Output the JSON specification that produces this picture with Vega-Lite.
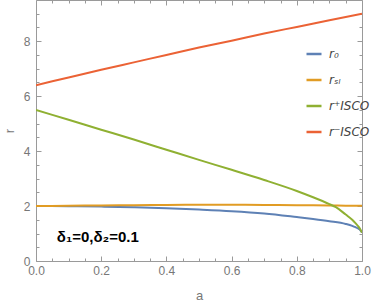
{
  "$schema": "https://vega.github.io/schema/vega-lite/v6.json",
  "width": 326,
  "height": 261,
  "autosize": {"type": "none"},
  "padding": {"left": 36, "top": 0, "right": 12, "bottom": 46},
  "background": "white",
  "config": {
    "font": "Liberation Sans",
    "view": {"stroke": null},
    "axis": {"domainColor": "#9a9a9a", "tickColor": "#9a9a9a", "labelColor": "#777777", "titleColor": "#777777", "labelFontSize": 12, "titleFontSize": 13, "titleFontWeight": "normal", "grid": false, "labelFont": "Liberation Sans", "titleFont": "Liberation Sans"}
  },
  "datasets": {
    "curves": [
      {"a": 0.0, "r": 2.0, "s": "r₀"},
      {"a": 0.1, "r": 1.995, "s": "r₀"},
      {"a": 0.2, "r": 1.98, "s": "r₀"},
      {"a": 0.3, "r": 1.955, "s": "r₀"},
      {"a": 0.4, "r": 1.92, "s": "r₀"},
      {"a": 0.5, "r": 1.873, "s": "r₀"},
      {"a": 0.6, "r": 1.815, "s": "r₀"},
      {"a": 0.7, "r": 1.73, "s": "r₀"},
      {"a": 0.8, "r": 1.6, "s": "r₀"},
      {"a": 0.85, "r": 1.53, "s": "r₀"},
      {"a": 0.9, "r": 1.45, "s": "r₀"},
      {"a": 0.95, "r": 1.35, "s": "r₀"},
      {"a": 0.97, "r": 1.28, "s": "r₀"},
      {"a": 0.98, "r": 1.23, "s": "r₀"},
      {"a": 0.99, "r": 1.17, "s": "r₀"},
      {"a": 0.995, "r": 1.12, "s": "r₀"},
      {"a": 1.0, "r": 1.04, "s": "r₀"},
      {"a": 0.0, "r": 2.0, "s": "rₛₗ"},
      {"a": 0.1, "r": 2.01, "s": "rₛₗ"},
      {"a": 0.2, "r": 2.022, "s": "rₛₗ"},
      {"a": 0.3, "r": 2.032, "s": "rₛₗ"},
      {"a": 0.4, "r": 2.04, "s": "rₛₗ"},
      {"a": 0.5, "r": 2.045, "s": "rₛₗ"},
      {"a": 0.6, "r": 2.045, "s": "rₛₗ"},
      {"a": 0.7, "r": 2.04, "s": "rₛₗ"},
      {"a": 0.8, "r": 2.03, "s": "rₛₗ"},
      {"a": 0.9, "r": 2.02, "s": "rₛₗ"},
      {"a": 0.95, "r": 2.015, "s": "rₛₗ"},
      {"a": 1.0, "r": 2.01, "s": "rₛₗ"},
      {"a": 0.0, "r": 5.5, "s": "r⁺ISCO"},
      {"a": 0.1, "r": 5.14, "s": "r⁺ISCO"},
      {"a": 0.2, "r": 4.78, "s": "r⁺ISCO"},
      {"a": 0.3, "r": 4.42, "s": "r⁺ISCO"},
      {"a": 0.4, "r": 4.05, "s": "r⁺ISCO"},
      {"a": 0.5, "r": 3.68, "s": "r⁺ISCO"},
      {"a": 0.6, "r": 3.32, "s": "r⁺ISCO"},
      {"a": 0.7, "r": 2.95, "s": "r⁺ISCO"},
      {"a": 0.8, "r": 2.55, "s": "r⁺ISCO"},
      {"a": 0.85, "r": 2.32, "s": "r⁺ISCO"},
      {"a": 0.9, "r": 2.07, "s": "r⁺ISCO"},
      {"a": 0.92, "r": 1.96, "s": "r⁺ISCO"},
      {"a": 0.95, "r": 1.69, "s": "r⁺ISCO"},
      {"a": 0.97, "r": 1.5, "s": "r⁺ISCO"},
      {"a": 0.98, "r": 1.38, "s": "r⁺ISCO"},
      {"a": 0.99, "r": 1.24, "s": "r⁺ISCO"},
      {"a": 0.995, "r": 1.15, "s": "r⁺ISCO"},
      {"a": 1.0, "r": 1.03, "s": "r⁺ISCO"},
      {"a": 0.0, "r": 6.4, "s": "r⁻ISCO"},
      {"a": 0.1, "r": 6.68, "s": "r⁻ISCO"},
      {"a": 0.2, "r": 6.96, "s": "r⁻ISCO"},
      {"a": 0.3, "r": 7.23, "s": "r⁻ISCO"},
      {"a": 0.4, "r": 7.5, "s": "r⁻ISCO"},
      {"a": 0.5, "r": 7.77, "s": "r⁻ISCO"},
      {"a": 0.6, "r": 8.02, "s": "r⁻ISCO"},
      {"a": 0.7, "r": 8.28, "s": "r⁻ISCO"},
      {"a": 0.8, "r": 8.52, "s": "r⁻ISCO"},
      {"a": 0.9, "r": 8.76, "s": "r⁻ISCO"},
      {"a": 1.0, "r": 9.0, "s": "r⁻ISCO"}
    ],
    "note": [{"a": 0.064, "r": 0.87, "t": "δ₁=0,δ₂=0.1"}]
  },
  "resolve": {"axis": {"x": "independent", "y": "independent"}},
  "layer": [
    {
      "data": {"name": "curves"},
      "mark": {"type": "line", "strokeWidth": 2, "interpolate": "monotone", "clip": true},
      "encoding": {
        "x": {"field": "a", "type": "quantitative", "scale": {"domain": [0, 1], "nice": false},
          "axis": {"title": "a", "orient": "bottom", "values": [0,0.05,0.1,0.15,0.2,0.25,0.3,0.35,0.4,0.45,0.5,0.55,0.6,0.65,0.7,0.75,0.8,0.85,0.9,0.95,1.0],
            "labelExpr": "abs(datum.value*5 - round(datum.value*5)) < 0.001 ? format(datum.value, '.1f') : ''",
            "tickSize": {"condition": {"test": "abs(datum.value*5 - round(datum.value*5)) < 0.001", "value": -5}, "value": -3},
            "labelPadding": 9, "titlePadding": 13, "labelFlush": false}},
        "y": {"field": "r", "type": "quantitative", "scale": {"domain": [0, 9.5], "nice": false},
          "axis": {"title": "r", "orient": "left", "values": [0,0.5,1,1.5,2,2.5,3,3.5,4,4.5,5,5.5,6,6.5,7,7.5,8,8.5,9],
            "labelExpr": "datum.value % 2 == 0 ? format(datum.value, 'd') : ''",
            "tickSize": {"condition": {"test": "datum.value % 2 == 0", "value": -5}, "value": -3},
            "labelPadding": 11, "titlePadding": 7}},
        "color": {"field": "s", "type": "nominal",
          "scale": {"domain": ["r₀", "rₛₗ", "r⁺ISCO", "r⁻ISCO"], "range": ["#5E81B5", "#E19C24", "#8FB032", "#EB6235"]},
          "legend": {"title": null, "orient": "none", "legendX": 269, "legendY": 45, "symbolType": "stroke", "symbolSize": 225, "symbolStrokeWidth": 2.5, "labelFont": "DejaVu Sans", "labelFontSize": 12, "labelFontStyle": "italic", "labelColor": "#444444", "rowPadding": 11, "labelOffset": 6}}
      }
    },
    {
      "data": {"name": "note"},
      "mark": {"type": "text", "align": "left", "baseline": "middle", "fontSize": 15, "fontWeight": "bold", "color": "black"},
      "encoding": {
        "x": {"field": "a", "type": "quantitative",
          "axis": {"orient": "top", "title": null, "labels": false, "values": [0,0.05,0.1,0.15,0.2,0.25,0.3,0.35,0.4,0.45,0.5,0.55,0.6,0.65,0.7,0.75,0.8,0.85,0.9,0.95,1.0],
            "tickSize": {"condition": {"test": "abs(datum.value*5 - round(datum.value*5)) < 0.001", "value": -5}, "value": -3}}},
        "y": {"field": "r", "type": "quantitative",
          "axis": {"orient": "right", "title": null, "labels": false, "values": [0,0.5,1,1.5,2,2.5,3,3.5,4,4.5,5,5.5,6,6.5,7,7.5,8,8.5,9],
            "tickSize": {"condition": {"test": "datum.value % 2 == 0", "value": -5}, "value": -3}}},
        "text": {"field": "t"}
      }
    }
  ]
}
